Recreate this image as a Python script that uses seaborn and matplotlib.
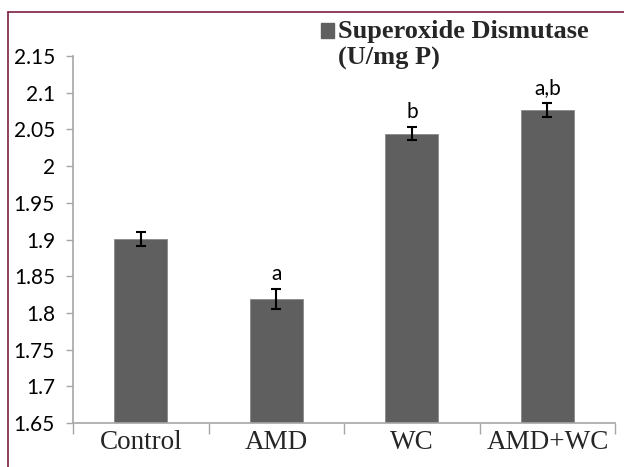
import numpy as np
import matplotlib
matplotlib.use("Agg")
import matplotlib.pyplot as plt
import seaborn as sns
import pandas as pd
from matplotlib.lines import Line2D
from matplotlib.patches import Patch
from matplotlib.ticker import FuncFormatter

# Data
groups = ["Control", "AMD", "WC", "AMD+WC"]
sod_values = [1.901, 1.819, 2.044, 2.076]
sod_errors = [0.0095, 0.013, 0.009, 0.0095]
sig_letters = ["", "a", "b", "a,b"]
y_ticks = [1.65, 1.7, 1.75, 1.8, 1.85, 1.9, 1.95, 2.0, 2.05, 2.1, 2.15]

df = pd.DataFrame({"group": groups, "value": sod_values, "err": sod_errors})

sns.set_style("white")
plt.rcParams['font.family'] = ['Lato', 'DejaVu Sans']

fig = plt.figure(figsize=(6.24, 4.67), dpi=100)
ax = fig.add_axes([0.117, 0.094, 0.869, 0.786])

bar_color = "#5f5f5f"
sns.barplot(data=df, x="group", y="value", color=bar_color, width=0.39,
            saturation=1, errorbar=None, ax=ax)
for p in ax.patches:
    p.set_edgecolor("#8a8a8a")
    p.set_linewidth(0.6)

ax.errorbar(np.arange(len(groups)), df["value"], yerr=df["err"], fmt="none",
            ecolor="black", elinewidth=1.5, capsize=3.5, capthick=1.5, zorder=5)

# significance letters above the error bars
for i, (v, e, lab) in enumerate(zip(sod_values, sod_errors, sig_letters)):
    if lab:
        ax.annotate(lab, (i, v + e), xytext=(0, 4), textcoords="offset points",
                    ha="center", va="bottom", fontsize=15, color="black")

ax.set_ylim(1.65, 2.15)
ax.set_xlim(-0.5, len(groups) - 0.5)
ax.set_yticks(y_ticks)
ax.yaxis.set_major_formatter(FuncFormatter(lambda v, pos: f"{v:.2f}".rstrip("0").rstrip(".")))
ax.tick_params(axis="y", which="major", left=True, length=5, width=1,
               color="#a6a6a6", pad=8, labelsize=15, labelcolor="black")

# category boundaries as ticks, names on minor ticks
ax.set_xticks(np.arange(-0.5, len(groups), 1.0))
ax.set_xticklabels([])
ax.set_xticks(np.arange(len(groups)), minor=True)
ax.set_xticklabels(groups, minor=True, fontfamily="Liberation Serif", fontsize=19.5)
ax.tick_params(axis="x", which="major", bottom=True, length=8, width=1, color="#a6a6a6")
ax.tick_params(axis="x", which="minor", bottom=False, length=0, pad=5)
ax.set_xlabel("")
ax.set_ylabel("")

for side in ["top", "right"]:
    ax.spines[side].set_visible(False)
for side in ["left", "bottom"]:
    ax.spines[side].set_color("#a6a6a6")
    ax.spines[side].set_linewidth(1.2)

# legend
handle = Patch(facecolor=bar_color, edgecolor=bar_color)
leg = fig.legend([handle], ["Superoxide Dismutase\n(U/mg P)"], loc="upper left",
                 bbox_to_anchor=(321 / 624, 1 - 20 / 467), frameon=False,
                 prop={"family": "Liberation Serif", "weight": "bold", "size": 19},
                 handlelength=0.5, handleheight=0.5, handletextpad=0.15,
                 borderpad=0, borderaxespad=0, labelspacing=0.1)
# put the square next to the first line, as in the reference
for hp in leg.get_patches():
    hp.set_y(hp.get_y() + 10)

# outer frame lines (top and left visible in the reference)
frame_color = "#7b1f42"
fig.add_artist(Line2D([8 / 624, 1.0], [1 - 12 / 467, 1 - 12 / 467], color=frame_color, linewidth=1.2))
fig.add_artist(Line2D([8 / 624, 8 / 624], [0.0, 1 - 12 / 467], color=frame_color, linewidth=1.2))

fig.savefig("out.png", dpi=100)
